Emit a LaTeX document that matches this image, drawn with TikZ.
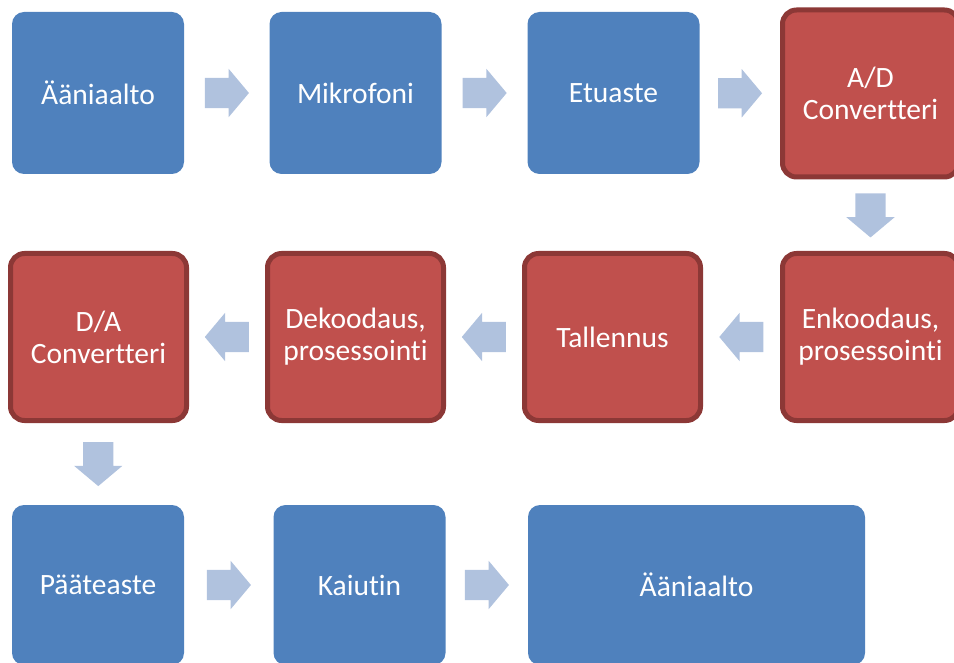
\documentclass[tikz,border=0pt]{standalone}
\usepackage{fontspec}
\setmainfont[Ligatures=NoCommon]{Carlito}
\usepackage{tikz}
\usetikzlibrary{shapes.arrows,calc}
\definecolor{boxblue}{HTML}{4F81BD}
\definecolor{boxred}{HTML}{C0504D}
\definecolor{boxredline}{HTML}{8C3836}
\definecolor{flowblue}{HTML}{B0C2DE}

\begin{document}
\begin{tikzpicture}[x=1pt,y=-1pt,
  bluebox/.style={rectangle,rounded corners=12pt,fill=boxblue,minimum width=172pt,minimum height=162pt},
  redbox/.style={rectangle,rounded corners=14pt,fill=boxred,draw=boxredline,line width=5pt,minimum width=176pt,minimum height=167pt},
  flow/.style={single arrow,anchor=tail,fill=flowblue,inner xsep=0pt,inner ysep=15pt,minimum height=44pt,single arrow head extend=9pt,single arrow tip angle=100}]
\tikzstyle{every node}+=[inner sep=0pt,text=white,align=center,font=\fontsize{29.5}{32}\selectfont]
\useasboundingbox (0,0) rectangle (954,663);
\node [bluebox] (q0) at (98,93) {Ääniaalto};
\node [bluebox] (q1) at (355.5,93) {Mikrofoni};
\node [bluebox] (q2) at (613.5,93) {Etuaste};
\node [redbox] (q3) at (870.5,93.5) {A/D\\Convertteri};
\node [redbox] (q4) at (870.5,337) {Enkoodaus,\\prosessointi};
\node [redbox] (q5) at (612.5,337) {Tallennus};
\node [redbox] (q6) at (355.5,337) {Dekoodaus,\\prosessointi};
\node [redbox] (q7) at (98.5,337) {D/A\\Convertteri};
\node [bluebox,minimum height=160pt] (q8) at (98,585) {Pääteaste};
\node [bluebox,minimum height=160pt] (q9) at (359.5,585) {Kaiutin};
\node [bluebox,minimum height=160pt,minimum width=337pt] (q10) at (696.5,585) {Ääniaalto};
\node [flow] at ($(q0.east)!0.5!(q1.west)+(-22,0)$) {};
\node [flow] at ($(q1.east)!0.5!(q2.west)+(-22,0)$) {};
\node [flow] at ($(q2.east)!0.5!(q3.west)+(-22,0)$) {};
\node [flow,rotate=-90] at ($(q3.south)!0.5!(q4.north)+(0,-22)$) {};
\node [flow,rotate=180] at ($(q4.west)!0.5!(q5.east)+(22,0)$) {};
\node [flow,rotate=180] at ($(q5.west)!0.5!(q6.east)+(22,0)$) {};
\node [flow,rotate=180] at ($(q6.west)!0.5!(q7.east)+(22,0)$) {};
\node [flow,rotate=-90] at ($(q7.south)!0.5!(q8.north)+(0,-22)$) {};
\node [flow] at ($(q8.east)!0.5!(q9.west)+(-22,0)$) {};
\node [flow] at ($(q9.east)!0.5!(q10.west)+(-22,0)$) {};
\end{tikzpicture}
\end{document}
